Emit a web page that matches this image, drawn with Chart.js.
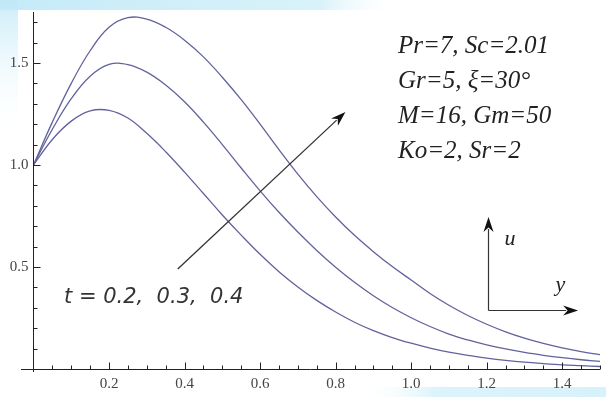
<!DOCTYPE html>
<html>
<head>
<meta charset="utf-8">
<script src="https://cdn.jsdelivr.net/npm/chart.js@4.4.0/dist/chart.umd.min.js"></script>
<style>
  html, body { margin: 0; padding: 0; background: #fff; }
  #wrap { width: 606px; height: 397px; position: relative; }
</style>
</head>
<body>
<div id="wrap"><canvas id="chart" width="606" height="397"></canvas></div>
<script>
// ---- data ----
const yGrid = [0, 0.05, 0.1, 0.15, 0.2, 0.25, 0.3, 0.35, 0.4, 0.45, 0.5, 0.55, 0.6, 0.65, 0.7, 0.75,
               0.8, 0.85, 0.9, 0.95, 1.0, 1.05, 1.1, 1.15, 1.2, 1.25, 1.3, 1.35, 1.4, 1.45, 1.5];

const uT02 = [1.0, 1.125, 1.215, 1.265, 1.268, 1.23, 1.155, 1.065, 0.965, 0.86, 0.755, 0.656, 0.562, 0.477, 0.402, 0.336,
              0.279, 0.229, 0.188, 0.154, 0.126, 0.102, 0.082, 0.066, 0.053, 0.042, 0.033, 0.026, 0.020, 0.016, 0.012];
const uT03 = [1.0, 1.175, 1.325, 1.435, 1.493, 1.492, 1.455, 1.392, 1.31, 1.21, 1.10, 0.985, 0.873, 0.768, 0.671, 0.581,
              0.499, 0.425, 0.359, 0.301, 0.251, 0.208, 0.171, 0.142, 0.118, 0.098, 0.081, 0.067, 0.055, 0.045, 0.037];
const uT04 = [1.0, 1.21, 1.40, 1.56, 1.675, 1.722, 1.715, 1.675, 1.612, 1.53, 1.43, 1.32, 1.20, 1.075, 0.955, 0.845,
              0.745, 0.655, 0.575, 0.502, 0.436, 0.37, 0.312, 0.262, 0.219, 0.182, 0.151, 0.125, 0.103, 0.085, 0.07];

const xTickLabels = ['0.2', '0.4', '0.6', '0.8', '1.0', '1.2', '1.4'];
const yTickLabels = ['0.5', '1.0', '1.5'];
const paramLines  = ['Pr=7, Sc=2.01', 'Gr=5, \u03BE=30\u00B0', 'M=16, Gm=50', 'Ko=2, Sr=2'];
const timeLabel   = 't = 0.2,  0.3,  0.4';

const toPts = arr => yGrid.map((v, i) => ({ x: v, y: arr[i] }));
const curveColor = '#62629c';

// background swoosh + Mathematica-style axes and annotations
const mmaPlugin = {
  id: 'mmaAxes',
  beforeDraw(chart) {
    const c = chart.ctx;
    c.save();
    c.fillStyle = '#fff';
    c.fillRect(0, 0, chart.width, chart.height);
    let g = c.createLinearGradient(0, 0, 400, 0);
    g.addColorStop(0, 'rgba(190,232,247,0.9)');
    g.addColorStop(0.8, 'rgba(200,236,248,0.7)');
    g.addColorStop(1, 'rgba(255,255,255,0)');
    c.fillStyle = g;
    c.fillRect(0, 0, 400, 10);
    g = c.createLinearGradient(0, 0, 0, 140);
    g.addColorStop(0, 'rgba(190,232,247,0.8)');
    g.addColorStop(1, 'rgba(255,255,255,0)');
    c.fillStyle = g;
    c.fillRect(0, 0, 18, 140);
    g = c.createLinearGradient(360, 0, 606, 0);
    g.addColorStop(0, 'rgba(255,255,255,0)');
    g.addColorStop(0.3, 'rgba(205,238,249,0.7)');
    g.addColorStop(1, 'rgba(205,238,249,0.8)');
    c.fillStyle = g;
    c.fillRect(360, 387, 246, 10);
    c.restore();
  },
  afterDatasetsDraw(chart) {
    const c = chart.ctx;
    const { x, y } = chart.scales;
    const x0 = Math.round(x.getPixelForValue(0)) + 0.5;
    const y0 = Math.round(y.getPixelForValue(0)) + 0.5;
    c.save();
    c.strokeStyle = '#222';
    c.lineWidth = 1;

    // axes lines
    c.beginPath();
    c.moveTo(x.left, y0); c.lineTo(x.right, y0);
    c.moveTo(x0, y.top); c.lineTo(x0, y.bottom);
    c.stroke();

    // x ticks (minor every 0.05, major every 0.2)
    c.beginPath();
    for (let i = 1; i <= 30; i++) {
      const px = Math.round(x.getPixelForValue(i * 0.05)) + 0.5;
      const len = i % 4 === 0 ? 7 : 4;
      c.moveTo(px, y0); c.lineTo(px, y0 - len);
    }
    // y ticks (minor every 0.1, major every 0.5)
    for (let i = 1; i <= 17; i++) {
      const py = Math.round(y.getPixelForValue(i * 0.1)) + 0.5;
      const len = i % 5 === 0 ? 7 : 4;
      c.moveTo(x0, py); c.lineTo(x0 + len, py);
    }
    c.stroke();

    // tick labels
    c.fillStyle = '#444';
    c.font = '15px "Liberation Serif", "Times New Roman", serif';
    c.textAlign = 'center';
    c.textBaseline = 'middle';
    xTickLabels.forEach(t => c.fillText(t, x.getPixelForValue(parseFloat(t)), y0 + 15));
    c.textAlign = 'right';
    yTickLabels.forEach(t => c.fillText(t, x0 - 5, y.getPixelForValue(parseFloat(t))));

    // arrow across curves (increasing t)
    const arrow = (xa, ya, xb, yb, head, wHead) => {
      const ang = Math.atan2(yb - ya, xb - xa);
      c.beginPath();
      c.moveTo(xa, ya);
      c.lineTo(xb - Math.cos(ang) * head * 0.8, yb - Math.sin(ang) * head * 0.8);
      c.stroke();
      c.beginPath();
      c.moveTo(xb, yb);
      c.lineTo(xb - Math.cos(ang) * head + Math.sin(ang) * wHead, yb - Math.sin(ang) * head - Math.cos(ang) * wHead);
      c.lineTo(xb - Math.cos(ang) * head * 0.7, yb - Math.sin(ang) * head * 0.7);
      c.lineTo(xb - Math.cos(ang) * head - Math.sin(ang) * wHead, yb - Math.sin(ang) * head + Math.cos(ang) * wHead);
      c.closePath();
      c.fill();
    };
    c.strokeStyle = '#333';
    c.fillStyle = '#111';
    c.lineWidth = 1.3;
    arrow(x.getPixelForValue(0.382), y.getPixelForValue(0.49),
          x.getPixelForValue(0.826), y.getPixelForValue(1.26), 15, 5);

    // small u / y axes sketch
    const cx = Math.round(x.getPixelForValue(1.204)) + 0.5;
    const cy = Math.round(y.getPixelForValue(0.29)) + 0.5;
    c.lineWidth = 1.2;
    arrow(cx, cy, cx, y.getPixelForValue(0.745), 15, 5);
    arrow(cx, cy, x.getPixelForValue(1.442), cy, 15, 5);

    c.fillStyle = '#222';
    c.textAlign = 'left';
    c.textBaseline = 'alphabetic';
    c.font = 'italic 22px "Liberation Serif", "Times New Roman", serif';
    c.fillText('u', cx + 16, cy - 66);
    c.fillText('y', cx + 67, cy - 20);

    // parameter block
    c.font = 'italic 25px "Liberation Serif", "Times New Roman", serif';
    paramLines.forEach((t, i) => c.fillText(t, 398, 53 + i * 35));

    // t label
    c.fillStyle = '#333';
    c.font = 'italic 21px "DejaVu Sans", Verdana, sans-serif';
    c.fillText(timeLabel, 64, 303);
    c.restore();
  }
};

new Chart(document.getElementById('chart'), {
  type: 'scatter',
  data: {
    datasets: [
      { label: 't=0.2', data: toPts(uT02) },
      { label: 't=0.3', data: toPts(uT03) },
      { label: 't=0.4', data: toPts(uT04) }
    ].map(d => Object.assign(d, {
      showLine: true,
      borderColor: curveColor,
      borderWidth: 1.3,
      pointRadius: 0,
      tension: 0.4,
      fill: false
    }))
  },
  options: {
    responsive: false,
    devicePixelRatio: 1,
    animation: false,
    layout: { padding: { left: 21, right: 6, top: 12, bottom: 25 } },
    plugins: { legend: { display: false }, tooltip: { enabled: false } },
    scales: {
      x: { type: 'linear', min: -0.033, max: 1.5, display: false },
      y: { type: 'linear', min: -0.015, max: 1.75, display: false }
    }
  },
  plugins: [mmaPlugin]
});
</script>
</body>
</html>
